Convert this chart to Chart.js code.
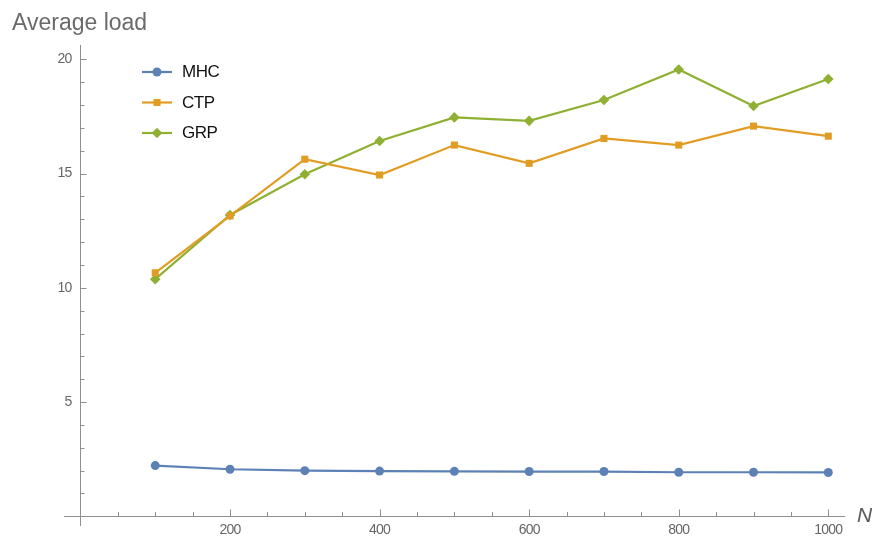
<!DOCTYPE html>
<html>
<head>
<meta charset="utf-8">
<script src="https://cdn.jsdelivr.net/npm/chart.js@4.4.1/dist/chart.umd.min.js"></script>
<style>
  html, body { margin: 0; padding: 0; background: #fff; }
  #wrap { width: 872px; height: 536px; position: relative; }
</style>
</head>
<body>
<div id="wrap"><canvas id="c" width="872" height="536"></canvas></div>
<script>
// Number of nodes N on the horizontal axis
const nValues = [100, 200, 300, 400, 500, 600, 700, 800, 900, 1000];
// Average load per method
const mhcLoad = [2.22, 2.06, 2.00, 1.98, 1.97, 1.96, 1.96, 1.93, 1.93, 1.92];
const ctpLoad = [10.66, 13.15, 15.63, 14.94, 16.25, 15.45, 16.54, 16.25, 17.08, 16.64];
const grpLoad = [10.38, 13.19, 14.97, 16.43, 17.46, 17.31, 18.22, 19.56, 17.96, 19.14];
const seriesNames = ['MHC', 'CTP', 'GRP'];
// Labelled ticks
const xTickLabels = [200, 400, 600, 800, 1000];
const yTickLabels = [5, 10, 15, 20];

const AXIS_COLOR = '#8f8f8f';
const TICK_TEXT = '#666666';
const FONT = "'Liberation Sans', Arial, sans-serif";
const X_RANGE = { min: -22, max: 1021 };
const Y_RANGE = { min: -0.38, max: 20.63 };

const seriesStyle = [
  { color: 'rgb(94,129,181)', pointStyle: 'circle', radius: 4.5 },
  { color: 'rgb(225,156,36)', pointStyle: 'rect', radius: 5 },
  { color: 'rgb(143,176,50)', pointStyle: 'rectRot', radius: 5.3 }
];

const seriesValues = [mhcLoad, ctpLoad, grpLoad];
const datasets = seriesNames.map((name, i) => ({
  label: name,
  data: nValues.map((n, k) => ({ x: n, y: seriesValues[i][k] })),
  borderColor: seriesStyle[i].color,
  backgroundColor: seriesStyle[i].color,
  pointBackgroundColor: seriesStyle[i].color,
  pointBorderWidth: 0,
  pointStyle: seriesStyle[i].pointStyle,
  pointRadius: seriesStyle[i].radius,
  borderWidth: 2.2,
  tension: 0,
  fill: false,
  xAxisID: 'x',
  yAxisID: 'y'
}));

// Axes sit on the data origin and take no layout room of their own
function noRoom(s) {
  if (s.isHorizontal()) s.height = 0; else s.width = 0;
  s.paddingTop = s.paddingBottom = s.paddingLeft = s.paddingRight = 0;
}

// Tight letter spacing for the axis tick labels
const textSpacing = {
  id: 'textSpacing',
  beforeDraw(chart) { chart.ctx.letterSpacing = '-0.8px'; },
  afterDraw(chart) { chart.ctx.letterSpacing = '0px'; }
};

// Major and minor tick marks, pointing into the plot
const tickMarks = {
  id: 'tickMarks',
  beforeDatasetsDraw(chart) {
    const { ctx, scales: { x, y } } = chart;
    const x0 = Math.round(x.getPixelForValue(0)) + 0.5;
    const y0 = Math.round(y.getPixelForValue(0)) + 0.5;
    ctx.save();
    ctx.strokeStyle = AXIS_COLOR;
    ctx.lineWidth = 1;
    ctx.beginPath();
    x.ticks.forEach(t => {
      if (t.value === 0) return;
      const px = Math.round(x.getPixelForValue(t.value)) + 0.5;
      const len = t.value % 200 === 0 ? 7 : 4.5;
      ctx.moveTo(px, y0);
      ctx.lineTo(px, y0 - len);
    });
    y.ticks.forEach(t => {
      if (t.value === 0) return;
      const py = Math.round(y.getPixelForValue(t.value)) + 0.5;
      const len = t.value % 5 === 0 ? 6 : 4;
      ctx.moveTo(x0, py);
      ctx.lineTo(x0 + len, py);
    });
    ctx.stroke();
    ctx.restore();
  }
};

// Axis captions and the series key
const annotations = {
  id: 'annotations',
  afterDraw(chart) {
    const ctx = chart.ctx;
    ctx.save();
    ctx.letterSpacing = '0px';
    ctx.textBaseline = 'alphabetic';
    ctx.textAlign = 'left';
    ctx.fillStyle = '#6a6a6a';
    ctx.font = `23px ${FONT}`;
    ctx.fillText('Average load', 12, 30);
    ctx.fillStyle = '#5a5a5a';
    ctx.font = `italic 21px ${FONT}`;
    ctx.fillText('N', 857, 522);

    // key
    const rows = [72, 102.5, 133];
    chart.data.datasets.forEach((ds, i) => {
      const yy = rows[i];
      ctx.strokeStyle = ds.borderColor;
      ctx.lineWidth = 2.2;
      ctx.beginPath();
      ctx.moveTo(142, yy);
      ctx.lineTo(172, yy);
      ctx.stroke();
      ctx.fillStyle = ds.pointBackgroundColor;
      Chart.helpers.drawPoint(ctx, {
        pointStyle: ds.pointStyle, radius: ds.pointRadius, rotation: 0, borderWidth: 0
      }, 157, yy);
      ctx.fillStyle = '#111';
      ctx.font = `17px ${FONT}`;
      ctx.letterSpacing = '-0.5px';
      ctx.textBaseline = 'middle';
      ctx.fillText(ds.label, 182, yy + 0.5);
      ctx.letterSpacing = '0px';
    });
    ctx.restore();
  }
};

new Chart(document.getElementById('c'), {
  type: 'line',
  data: { datasets },
  plugins: [textSpacing, tickMarks, annotations],
  options: {
    responsive: false,
    animation: false,
    devicePixelRatio: 1,
    layout: { padding: { left: 64, right: 28, top: 45, bottom: 11 } },
    plugins: { legend: { display: false }, tooltip: { enabled: false } },
    scales: {
      x: {
        type: 'linear',
        ...X_RANGE,
        position: { y: 0 },
        afterFit: noRoom,
        grid: { display: false, drawTicks: true, tickLength: 5 },
        border: { color: AXIS_COLOR, width: 1 },
        ticks: {
          stepSize: 50,
          includeBounds: false,
          autoSkip: false,
          maxRotation: 0,
          padding: 0,
          color: TICK_TEXT,
          font: { family: FONT, size: 14 },
          callback: v => xTickLabels.includes(v) ? String(v) : ''
        }
      },
      // value axis: its labels stand a little left of the axis line
      y: {
        type: 'linear',
        ...Y_RANGE,
        position: { x: -12 },
        afterFit: noRoom,
        grid: { display: false, drawTicks: false },
        border: { display: false },
        ticks: {
          stepSize: 1,
          includeBounds: false,
          autoSkip: false,
          padding: 0,
          color: TICK_TEXT,
          font: { family: FONT, size: 14 },
          callback: v => yTickLabels.includes(v) ? String(v) : ''
        }
      },
      // the vertical axis line through x = 0
      yLine: {
        type: 'linear',
        ...Y_RANGE,
        position: { x: 0 },
        afterFit: noRoom,
        grid: { display: false, drawTicks: false },
        border: { color: AXIS_COLOR, width: 1 },
        ticks: { display: false, stepSize: 1, includeBounds: false }
      }
    }
  }
});
</script>
</body>
</html>
